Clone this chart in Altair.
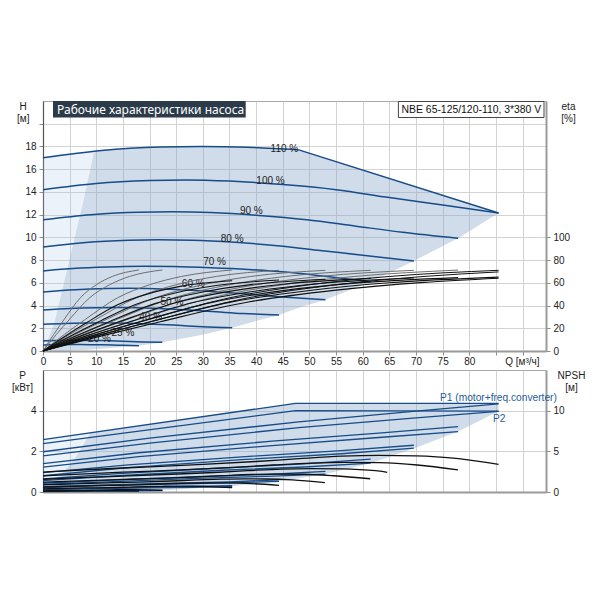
import altair as alt
import pandas as pd

# ---------------- TOP PANEL: head H(Q) at relative speeds ----------------
H110_Q = [0, 11, 22, 29.7, 38.5, 48]
H110_H = [17.0, 17.65, 17.95, 18.0, 17.93, 17.7]
LIMIT_Q = [48, 85.5]
LIMIT_H = [17.7, 12.15]
H100_Q = [0, 10, 20, 27, 35, 45, 55, 65, 75, 85.5]
H100_H = [14.2, 14.75, 15.0, 15.05, 14.95, 14.65, 14.2, 13.5, 12.85, 12.15]
H90_Q = [0, 9, 18, 24.3, 31.5, 40.5, 49.5, 58.5, 67.5, 77.9]
H90_H = [11.55, 12.0, 12.22, 12.25, 12.18, 11.93, 11.55, 11.0, 10.45, 9.92]
H80_Q = [0, 8, 16, 21.6, 28, 36, 44, 52, 60, 69.6]
H80_H = [9.15, 9.55, 9.74, 9.78, 9.74, 9.56, 9.27, 8.85, 8.42, 7.93]
H70_Q = [0, 7, 14, 18.9, 24.5, 31.5, 38.5, 45.5, 52.5, 61.5]
H70_H = [7.05, 7.3, 7.42, 7.45, 7.43, 7.33, 7.18, 6.95, 6.6, 6.1]
H60_Q = [0, 6, 12, 16.2, 21, 27, 33, 39, 45, 53]
H60_H = [5.2, 5.4, 5.5, 5.52, 5.48, 5.37, 5.2, 4.98, 4.75, 4.5]
H50_Q = [0, 5, 10, 13.5, 17.5, 22.5, 27.5, 32.5, 37.5, 44.3]
H50_H = [3.61, 3.75, 3.81, 3.82, 3.8, 3.72, 3.6, 3.45, 3.3, 3.17]
H40_Q = [0, 4, 8, 10.8, 14, 18, 22, 26, 30, 35.5]
H40_H = [2.35, 2.43, 2.47, 2.48, 2.46, 2.41, 2.34, 2.24, 2.14, 2.05]
H25_Q = [0, 2.5, 5, 6.75, 8.75, 11.25, 13.75, 16.25, 18.75, 22.4]
H25_H = [0.88, 0.92, 0.94, 0.94, 0.93, 0.92, 0.89, 0.84, 0.8, 0.76]
H20_Q = [0, 2, 4, 5.4, 7, 9, 11, 13, 15, 18]
H20_H = [0.53, 0.56, 0.57, 0.57, 0.57, 0.56, 0.54, 0.52, 0.5, 0.47]

SPEEDS = ["110", "100", "90", "80", "70", "60", "50", "40", "25", "20"]

LBL_TEXT = ["110 %", "100 %", "90 %", "80 %", "70 %", "60 %", "50 %", "40 %", "25 %", "20 %"]
LBL_Q = [45.3, 42.7, 39.1, 35.5, 32.2, 28.2, 24.2, 20.2, 15.0, 10.6]
LBL_H = [17.8, 15.0, 12.3, 9.9, 7.8, 5.9, 4.3, 2.95, 1.55, 1.02]

# efficiency curves (eta, %): pump (grey) and total (black)
E110_Q = [0, 11, 22, 38.5, 55, 71.5, 85.5]
E100_Q = [0, 10, 20, 35, 50, 65, 85.5]
E90_Q = [0, 9, 18, 31.5, 45, 58.5, 77.9]
E80_Q = [0, 8, 16, 28, 40, 52, 69.6]
E70_Q = [0, 7, 14, 24.5, 35, 45.5, 61.5]
E60_Q = [0, 6, 12, 21, 30, 39, 53]
E50_Q = [0, 5, 10, 17.5, 25, 32.5, 44.3]
E40_Q = [0, 4, 8, 14, 20, 26, 35.5]
E25_Q = [0, 2.5, 5, 8.75, 12.5, 16.25, 22.4]
E20_Q = [0, 2, 4, 7, 10, 13, 18]

EP110 = [0, 14.5, 28, 46.8, 58.3, 65.6, 69.6]
EP100 = [0, 14.5, 28, 46.8, 58.3, 65.6, 71.0]
EP90 = [0, 14.5, 28, 46.8, 58.3, 65.6, 71.2]
EP80 = [0, 14.5, 28, 46.8, 58.3, 65.6, 71.0]
EP70 = [0, 14.5, 28, 46.8, 58.3, 65.6, 71.0]
EP60 = [0, 14.5, 28, 46.8, 58.3, 65.6, 71.0]
EP50 = [0, 14.5, 28, 46.8, 58.3, 65.6, 71.0]
EP40 = [0, 14.5, 28, 46.8, 58.3, 65.6, 71.3]
EP25 = [0, 14.5, 28, 46.8, 58.3, 65.6, 71.3]
EP20 = [0, 14.5, 28, 46.8, 58.3, 65.6, 71.3]

ET110 = [0, 13.3, 25.8, 43.1, 53.6, 60.4, 64.0]
ET100 = [0, 13.3, 25.6, 42.8, 53.3, 60.0, 65.0]
ET90 = [0, 13.2, 25.5, 42.6, 53.1, 59.7, 64.6]
ET80 = [0, 13.1, 25.3, 42.4, 52.8, 59.4, 64.3]
ET70 = [0, 13.1, 25.2, 42.1, 52.5, 59.0, 63.9]
ET60 = [0, 12.9, 24.9, 41.7, 51.9, 58.4, 63.2]
ET50 = [0, 12.8, 24.6, 41.2, 51.3, 57.7, 62.5]
ET40 = [0, 12.6, 24.4, 40.7, 50.7, 57.1, 61.8]

# operating range shading (top)
TOP_SHADE_Q = [0, 2.1, 5.2, 7.5, 9.6, 11, 17.8, 22, 22.4, 29.7, 35.5, 38.5, 44.3, 48, 53, 61.5, 69.6, 77.9, 85.5]
TOP_SHADE_LO = [0, 0.01, 0.05, 0.09, 0.15, 0.2, 0.47, 0.72, 0.76, 1.4, 2.05, 2.45, 3.17, 3.8, 4.5, 6.1, 7.93, 9.92, 12.15]
TOP_SHADE_HI = [0, 2.4, 8.5, 13, 17.56, 17.65, 17.85, 17.95, 17.95, 18.0, 17.96, 17.93, 17.8, 17.7, 16.96, 15.7, 14.5, 13.27, 12.15]
TOP_LIGHT_Q = [0, 2.1, 5.2, 7.5, 9.6]
TOP_LIGHT_LO = [0, 2.4, 8.5, 13, 17.56]
TOP_LIGHT_HI = [17.0, 17.24, 17.4, 17.5, 17.56]

# ---------------- BOTTOM PANEL: power P1 / P2 and NPSH ----------------
P1_110_Q = [0, 47.4, 85.5]
P1_110 = [2.58, 4.36, 4.36]
P2_110 = [2.38, 4.0, 3.98]
P100_Q = [0, 20, 48, 70, 85.5]
P1_100 = [1.98, 2.65, 3.45, 3.98, 4.33]
P2_100 = [1.78, 2.4, 3.17, 3.65, 3.97]
P90_Q = [0, 18, 43, 63, 77.9]
P1_90 = [1.4, 1.93, 2.5, 2.9, 3.22]
P2_90 = [1.22, 1.74, 2.28, 2.68, 2.97]
P80_Q = [0, 16, 38, 56, 69.6]
P1_80 = [0.95, 1.33, 1.74, 2.03, 2.3]
P2_80 = [0.8, 1.2, 1.6, 1.88, 2.16]
P70_Q = [0, 14, 33.6, 49, 61.5]
P1_70 = [0.64, 0.9, 1.18, 1.38, 1.62]
P2_70 = [0.56, 0.8, 1.07, 1.23, 1.42]
P60_Q = [0, 12, 28.8, 42, 53]
P1_60 = [0.43, 0.57, 0.75, 0.86, 1.01]
P2_60 = [0.37, 0.5, 0.67, 0.77, 0.88]
P50_Q = [0, 10, 24, 35, 44.3]
P1_50 = [0.26, 0.34, 0.44, 0.5, 0.6]
P2_50 = [0.22, 0.3, 0.39, 0.45, 0.52]
P40_Q = [0, 8, 19.2, 28, 35.5]
P1_40 = [0.14, 0.18, 0.23, 0.27, 0.31]
P2_40 = [0.12, 0.15, 0.2, 0.23, 0.27]
P25_Q = [0, 11, 22.4]
P1_25 = [0.05, 0.07, 0.09]
P2_25 = [0.03, 0.05, 0.07]
P20_Q = [0, 9, 18]
P1_20 = [0.03, 0.045, 0.06]
P2_20 = [0.02, 0.03, 0.04]

N100_Q = [0, 10, 20, 30, 40, 48, 56, 63, 70, 78, 85.5]
N100 = [2.45, 2.8, 3.1, 3.4, 3.75, 4.1, 4.4, 4.5, 4.45, 4.1, 3.4]
N90_Q = [0, 9, 18, 27, 36, 43.2, 50.4, 56.7, 63, 70.2, 77.9]
N90 = [1.98, 2.27, 2.51, 2.75, 3.04, 3.32, 3.56, 3.65, 3.6, 3.32, 2.72]
N80_Q = [0, 8, 16, 24, 32, 38.4, 44.8, 50.4, 56, 62.4, 64.6]
N80 = [1.57, 1.79, 1.98, 2.18, 2.4, 2.62, 2.82, 2.88, 2.85, 2.62, 2.42]
N70_Q = [0, 7, 14, 21, 28, 33.6, 39.2, 44.1, 49, 54.6, 61.4]
N70 = [1.2, 1.37, 1.52, 1.67, 1.84, 2.01, 2.16, 2.2, 2.18, 2.0, 1.63]
N60_Q = [0, 6, 12, 18, 24, 28.8, 33.6, 37.8, 42, 46.8, 52.9]
N60 = [0.88, 1.01, 1.12, 1.22, 1.35, 1.48, 1.58, 1.62, 1.6, 1.48, 1.14]
N50_Q = [0, 5, 10, 15, 20, 24, 28, 31.5, 35, 39, 44.3]
N50 = [0.61, 0.7, 0.78, 0.85, 0.94, 1.03, 1.1, 1.13, 1.11, 1.03, 0.82]
N40_Q = [0, 4, 8, 12, 16, 19.2, 22.4, 25.2, 28, 31.2, 35.5]
N40 = [0.39, 0.45, 0.5, 0.54, 0.6, 0.66, 0.7, 0.72, 0.71, 0.66, 0.54]
N25_Q = [0, 2.5, 5, 7.5, 10, 12, 14, 15.75, 17.5, 19.5, 22.4]
N25 = [0.15, 0.18, 0.19, 0.21, 0.23, 0.26, 0.28, 0.28, 0.28, 0.26, 0.21]
N20_Q = [0, 2, 4, 6, 8, 9.6, 11.2, 12.6, 14, 15.6, 18]
N20 = [0.1, 0.11, 0.12, 0.14, 0.15, 0.16, 0.18, 0.18, 0.18, 0.16, 0.14]

BOT_SHADE_Q = [0, 2, 4, 6, 8.9, 17.8, 22.4, 35.5, 44.3, 47.4, 53, 61.5, 69.6, 77.9, 85.5]
BOT_SHADE_LO = [0, 0, 0, 0.01, 0.02, 0.04, 0.08, 0.28, 0.54, 0.65, 0.88, 1.42, 2.14, 2.97, 3.97]
BOT_SHADE_HI = [0, 0.5, 1.05, 1.65, 2.92, 3.25, 3.42, 3.91, 4.24, 4.36, 4.36, 4.36, 4.36, 4.36, 4.36]
BOT_LIGHT_Q = [0, 2, 4, 6, 8.9]
BOT_LIGHT_LO = [0, 0.5, 1.05, 1.65, 2.92]
BOT_LIGHT_HI = [2.58, 2.66, 2.73, 2.81, 2.92]

P_LABELS = ["P1 (motor+freq.converter)", "P2"]
P_LABEL_Q = [74.5, 85.6]
P_LABEL_P = [4.6, 3.6]

TITLE = "Рабочие характеристики насоса"
MODEL = "NBE 65-125/120-110, 3*380 V"

# ---------------- helpers ----------------
def long(names, qs, vs, **extra):
    rows = []
    for n, q, v in zip(names, qs, vs):
        for a, b in zip(q, v):
            r = {"curve": n, "Q": a, "v": b}
            r.update(extra)
            rows.append(r)
    return rows

BLUE = "#164c8a"
SHADE = "#8aa8c8"
FONT = "Liberation Sans"

W, HT, HB = 503, 250, 122
QMAX = 94.4

XS = alt.Scale(domain=[0, QMAX], nice=False, zero=False)
AX_TOP = alt.Axis(values=list(range(0, 95, 5)),
                  labelExpr="datum.value <= 80 ? datum.label : ''",
                  tickSize=4, labelPadding=1, domainColor="#9a9a9a", domainWidth=2,
                  title="Q [м³/ч]", titleX=461.7, titleY=5, titleAlign="left",
                  titleBaseline="top", titleAngle=0)
AX_BOTX = alt.Axis(values=list(range(0, 95, 5)), labels=False, ticks=False, title=None,
                   domainColor="#9a9a9a", domainWidth=2)
X_TOP = alt.X("Q:Q", scale=XS, axis=AX_TOP)
X_BOT = alt.X("Q:Q", scale=XS, axis=AX_BOTX)

YS_H = alt.Scale(domain=[0, 22], nice=False)
AX_H = alt.Axis(values=list(range(0, 21, 2)),
                labelExpr="datum.value <= 18 ? datum.label : ''",
                title=["H", "[м]"], titleAngle=0, titleAlign="center", titleBaseline="top",
                titleX=-20.3, titleY=0, titleLineHeight=12, tickSize=4, labelPadding=3,
                domainColor="#555555", domainWidth=1.2)
YS_E = alt.Scale(domain=[0, 220], nice=False)
AX_E = alt.Axis(orient="right", values=[0, 20, 40, 60, 80, 100], grid=False,
                title=["eta", "[%]"], titleAngle=0, titleAlign="center", titleBaseline="top",
                titleX=22, titleY=0, titleLineHeight=12, tickSize=4, labelPadding=3,
                domainColor="#9a9a9a", domainWidth=2)
YS_P = alt.Scale(domain=[0, 6], nice=False)
AX_P = alt.Axis(values=[0, 2, 4], title=["P", "[кВт]"], titleAngle=0, titleAlign="center",
                titleBaseline="top", titleX=-21, titleY=0, titleLineHeight=12, tickSize=4,
                labelPadding=3, domainColor="#555555", domainWidth=1.2)
YS_N = alt.Scale(domain=[0, 15], nice=False)
AX_N = alt.Axis(orient="right", values=[0, 5, 10], grid=False, title=["NPSH", "[м]"],
                titleAngle=0, titleAlign="center", titleBaseline="top", titleX=25, titleY=0,
                titleLineHeight=12, tickSize=4, labelPadding=3,
                domainColor="#9a9a9a", domainWidth=2)

# ---------------- top panel data ----------------
h_df = pd.DataFrame(long(SPEEDS,
    [H110_Q, H100_Q, H90_Q, H80_Q, H70_Q, H60_Q, H50_Q, H40_Q, H25_Q, H20_Q],
    [H110_H, H100_H, H90_H, H80_H, H70_H, H60_H, H50_H, H40_H, H25_H, H20_H]))
lim_df = pd.DataFrame(long(["limit"], [LIMIT_Q], [LIMIT_H]))

EQ = [E110_Q, E100_Q, E90_Q, E80_Q, E70_Q, E60_Q, E50_Q, E40_Q, E25_Q, E20_Q]
EP = [EP110, EP100, EP90, EP80, EP70, EP60, EP50, EP40, EP25, EP20]
pump_cols = ["#111111", "#111111"] + ["#6e6e6e"] * 8
rows = []
for n, q, v, c in zip(SPEEDS, EQ, EP, pump_cols):
    rows += long(["p" + n], [q], [v], col=c, w=1.0)
rows += long(["t" + n for n in SPEEDS[:8]], EQ[:8],
             [ET110, ET100, ET90, ET80, ET70, ET60, ET50, ET40], col="#111111", w=1.1)
e_df = pd.DataFrame(rows)

top_shade = pd.DataFrame({"Q": TOP_SHADE_Q, "lo": TOP_SHADE_LO, "hi": TOP_SHADE_HI})
top_light = pd.DataFrame({"Q": TOP_LIGHT_Q, "lo": TOP_LIGHT_LO, "hi": TOP_LIGHT_HI})
lbl_df = pd.DataFrame({"t": LBL_TEXT, "Q": LBL_Q, "v": LBL_H})

Y_HLO = alt.Y("lo:Q", scale=YS_H, axis=AX_H)
Y_H = alt.Y("v:Q", scale=YS_H, axis=AX_H)

t_light = alt.Chart(top_light).mark_area(color="#a8c4e4", opacity=0.22).encode(
    x=X_TOP, y=Y_HLO, y2="hi:Q")
t_shade = alt.Chart(top_shade).mark_area(color=SHADE, opacity=0.4).encode(
    x=X_TOP, y=Y_HLO, y2="hi:Q")
t_lines = alt.Chart(h_df).mark_line(color=BLUE, strokeWidth=1.5, interpolate="monotone").encode(
    x=X_TOP, y=Y_H, detail="curve:N")
t_limit = alt.Chart(lim_df).mark_line(color=BLUE, strokeWidth=1.5).encode(
    x=X_TOP, y=Y_H, detail="curve:N")
t_lbl = alt.Chart(lbl_df).mark_text(font=FONT, fontSize=10, color="#222222").encode(
    x=X_TOP, y=Y_H, text="t:N")

box_df = pd.DataFrame({"t": [TITLE]})
model_df = pd.DataFrame({"t": [MODEL]})
t_box = alt.Chart(box_df).mark_rect(color="#2c3b4a").encode(
    x=alt.value(10), x2=alt.value(202.7), y=alt.value(0), y2=alt.value(16.5))
t_boxtxt = alt.Chart(box_df).mark_text(align="left", baseline="middle", color="white",
                                       font="Noto Sans", fontSize=12).encode(
    x=alt.value(14), y=alt.value(8.8), text="t:N")
t_mod = alt.Chart(model_df).mark_rect(fill="white", stroke="#444444", strokeWidth=1).encode(
    x=alt.value(355.4), x2=alt.value(501), y=alt.value(0.5), y2=alt.value(16.5))
t_modtxt = alt.Chart(model_df).mark_text(align="left", baseline="middle", color="#111111",
                                         font=FONT, fontSize=10.4).encode(
    x=alt.value(358.6), y=alt.value(8.8), text="t:N")
anchor = alt.Chart(box_df).mark_square(size=1, opacity=0, strokeWidth=0).encode(
    x=alt.value(-33.8), y=alt.value(-91.5))

t_eta = alt.Chart(e_df).mark_line(interpolate="monotone").encode(
    x=X_TOP, y=alt.Y("v:Q", scale=YS_E, axis=AX_E), detail="curve:N",
    color=alt.Color("col:N", scale=None), strokeWidth=alt.StrokeWidth("w:Q", scale=None))

top_left = alt.layer(t_light, t_shade, t_lines, t_limit, t_lbl, t_box, t_boxtxt, t_mod,
                     t_modtxt, anchor)
top = alt.layer(top_left, t_eta).resolve_scale(y="independent").properties(width=W, height=HT)

# ---------------- bottom panel data ----------------
p_names, p_q, p_v = [], [], []
for n, q, a, b in [("110", P1_110_Q, P1_110, P2_110), ("100", P100_Q, P1_100, P2_100),
                   ("90", P90_Q, P1_90, P2_90), ("80", P80_Q, P1_80, P2_80),
                   ("70", P70_Q, P1_70, P2_70), ("60", P60_Q, P1_60, P2_60),
                   ("50", P50_Q, P1_50, P2_50), ("40", P40_Q, P1_40, P2_40),
                   ("25", P25_Q, P1_25, P2_25), ("20", P20_Q, P1_20, P2_20)]:
    p_names += ["P1_" + n, "P2_" + n]
    p_q += [q, q]
    p_v += [a, b]
p_df = pd.DataFrame(long(p_names, p_q, p_v))
n_df = pd.DataFrame(long(["100", "90", "80", "70", "60", "50", "40", "25", "20"],
    [N100_Q, N90_Q, N80_Q, N70_Q, N60_Q, N50_Q, N40_Q, N25_Q, N20_Q],
    [N100, N90, N80, N70, N60, N50, N40, N25, N20]))
bot_shade = pd.DataFrame({"Q": BOT_SHADE_Q, "lo": BOT_SHADE_LO, "hi": BOT_SHADE_HI})
bot_light = pd.DataFrame({"Q": BOT_LIGHT_Q, "lo": BOT_LIGHT_LO, "hi": BOT_LIGHT_HI})
plbl_df = pd.DataFrame({"t": P_LABELS, "Q": P_LABEL_Q, "v": P_LABEL_P})

Y_PLO = alt.Y("lo:Q", scale=YS_P, axis=AX_P)
Y_P = alt.Y("v:Q", scale=YS_P, axis=AX_P)

b_light = alt.Chart(bot_light).mark_area(color="#a8c4e4", opacity=0.22).encode(
    x=X_BOT, y=Y_PLO, y2="hi:Q")
b_shade = alt.Chart(bot_shade).mark_area(color=SHADE, opacity=0.4).encode(
    x=X_BOT, y=Y_PLO, y2="hi:Q")
b_lines = alt.Chart(p_df).mark_line(color=BLUE, strokeWidth=1.3).encode(
    x=X_BOT, y=Y_P, detail="curve:N")
b_lbl1 = alt.Chart(plbl_df.iloc[[0]]).mark_text(font=FONT, fontSize=10.2, color="#1f5b9c",
                                                 align="left").encode(x=X_BOT, y=Y_P, text="t:N")
b_lbl2 = alt.Chart(plbl_df.iloc[[1]]).mark_text(font=FONT, fontSize=10.2, color="#1f5b9c",
                                                 align="center").encode(x=X_BOT, y=Y_P, text="t:N")
b_npsh = alt.Chart(n_df).mark_line(color="#111111", strokeWidth=1.3, interpolate="monotone").encode(
    x=X_BOT, y=alt.Y("v:Q", scale=YS_N, axis=AX_N), detail="curve:N")

bot_left = alt.layer(b_light, b_shade, b_lines, b_lbl1, b_lbl2)
bottom = alt.layer(bot_left, b_npsh).resolve_scale(y="independent").properties(width=W, height=HB)

chart = alt.vconcat(top, bottom, spacing=19, bounds="flush").properties(
    padding={"left": 0, "top": 0, "right": 5, "bottom": 5}
).configure_view(stroke="#a8a8a8", strokeWidth=1).configure_axis(
    labelFont=FONT, labelFontSize=10, labelColor="#222222", titleFont=FONT, titleFontSize=10,
    titleFontWeight="normal", titleColor="#222222", gridColor="#d3d3d3", gridWidth=1,
    tickColor="#8c8c8c", labelFlush=False, labelOverlap=False
)

chart.save("out.html", embed_options={"renderer": "svg", "actions": False})
